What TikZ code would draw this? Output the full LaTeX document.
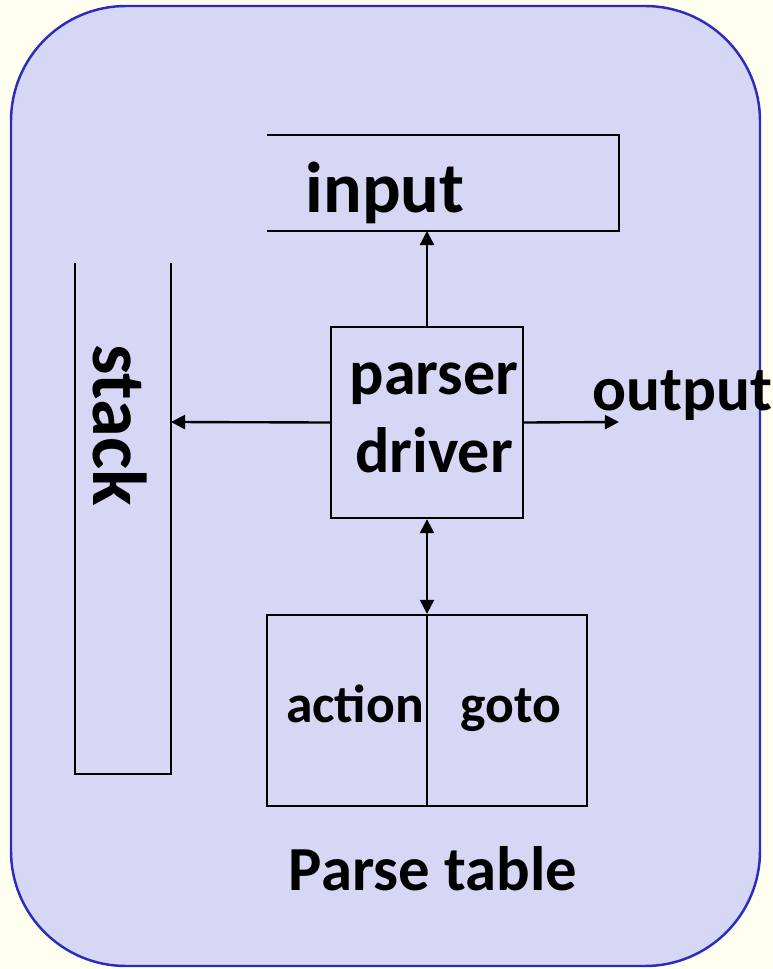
\documentclass[tikz,border=0pt]{standalone}
\usepackage{fontspec}
\setmainfont{Carlito}
\usetikzlibrary{arrows.meta}
\definecolor{panel}{HTML}{D6D6F5}
\definecolor{rim}{HTML}{2B2BBF}
\definecolor{paper}{HTML}{FFFFF0}
\tikzset{
  lbl/.style={font=\bfseries\fontsize{#1}{#1}\selectfont, inner sep=0pt},
}
\begin{document}
\begin{tikzpicture}[x=0.02cm, y=-0.02cm, line width=1.35pt,
    >={Triangle[length=8pt,width=8pt]}]
  \fill[paper] (0,0) rectangle (773,969);
  \draw[rim, fill=panel, line width=1.4pt, rounded corners=2.3cm] (11,6) rectangle (760,966);
  % input buffer, open on the left
  \draw (267,135) -- (619,135) -- (619,231) -- (267,231);
  \coordinate (inbot) at (427,231);
  \node[lbl=41, anchor=base] (input) at (385,213) {input};
  % stack, open at the top
  \draw (75,263) -- (75,774) -- (171,774) -- (171,263);
  \coordinate (stackside) at (171,422);
  \node[lbl=43.5, rotate=-90] (stack) at (120,425) {stack};
  % driver
  \node[draw, minimum width=3.84cm, minimum height=3.82cm, inner sep=0pt] (drv) at (427,422.5) {};
  \node[inner sep=0pt, align=center, font=\bfseries\fontsize{36.5}{44}\selectfont] (drvtext) at (434,418) {parser\\driver};
  \coordinate (out) at (619,422);
  \node[lbl=36, anchor=base west] (output) at (591,410) {output};
  % parse table
  \node[draw, minimum width=6.4cm, minimum height=3.82cm, inner sep=0pt] (tbl) at (427,710.5) {};
  \draw (tbl.north) -- (tbl.south);
  \node[lbl=30.5, anchor=base] (action) at (355,722) {action};
  \node[lbl=30.5, anchor=base] (goto) at (511,722) {goto};
  \node[lbl=35.7, anchor=base] (ptab) at (433,890) {Parse table};
  % connectors
  \draw[->] (drv.north) -- (inbot);
  \draw[->] (drv.west) -- (stackside);
  \draw[->] (drv.east) -- (out);
  \draw[<->] (drv.south) -- (tbl.north);
\end{tikzpicture}
\end{document}
